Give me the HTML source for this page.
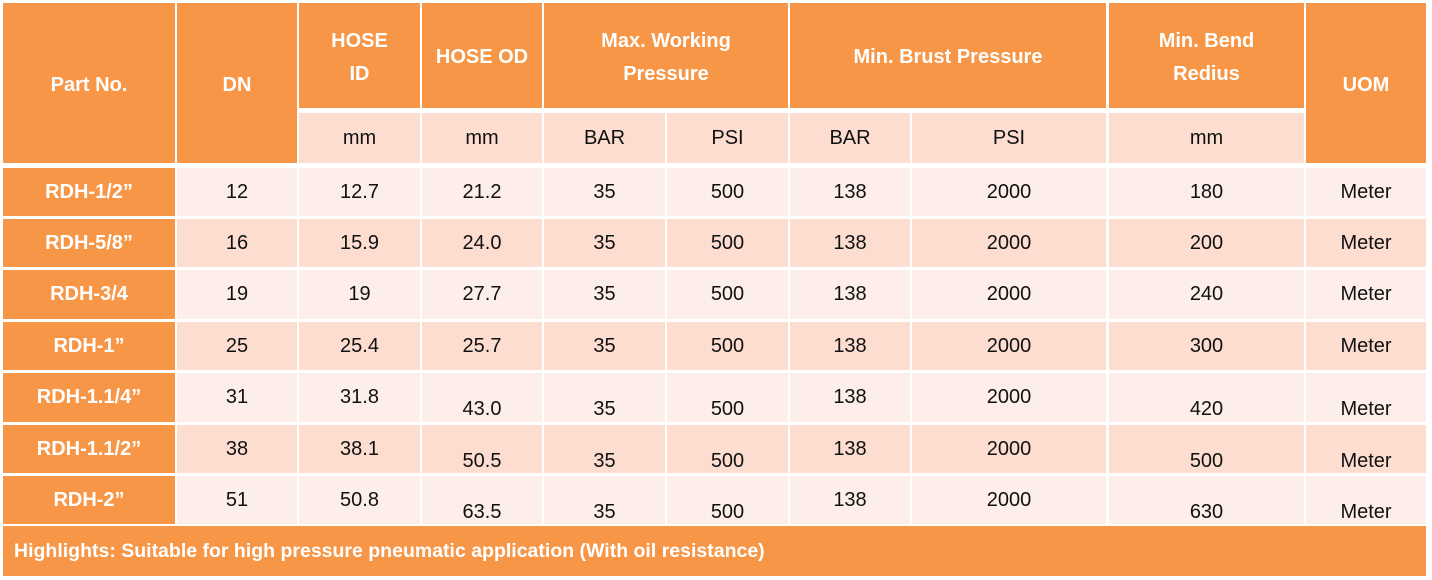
<!DOCTYPE html>
<html><head><meta charset="utf-8"><style>
body{margin:0;width:1432px;height:580px;background:#fff;position:relative;overflow:hidden;font-family:"Liberation Sans",sans-serif;}
.c{position:absolute;display:flex;align-items:center;justify-content:center;text-align:center;font-size:20px;color:#111;box-sizing:border-box;line-height:33px}
.h{background:#F79646;color:#fff;font-weight:bold;font-size:20px;padding-top:4px}
.s{background:#FCDDD0;}
.a{background:#FDEEE9;}
.b{background:#FCDDD0;}
.p{background:#F79646;color:#fff;font-weight:bold;}
.lo{padding-top:24px}
</style></head><body>
<div class="c h" style="left:3px;top:3px;width:172px;height:160px">Part No.</div>
<div class="c h" style="left:177px;top:3px;width:120px;height:160px">DN</div>
<div class="c h" style="left:299px;top:3px;width:121px;height:105px">HOSE<br>ID</div>
<div class="c h" style="left:422px;top:3px;width:120px;height:105px">HOSE OD</div>
<div class="c h" style="left:544px;top:3px;width:244px;height:105px">Max. Working<br>Pressure</div>
<div class="c h" style="left:790px;top:3px;width:316px;height:105px">Min. Brust Pressure</div>
<div class="c h" style="left:1109px;top:3px;width:195px;height:105px">Min. Bend<br>Redius</div>
<div class="c h" style="left:1306px;top:3px;width:120px;height:160px">UOM</div>
<div class="c s" style="left:299px;top:113px;width:121px;height:50px">mm</div>
<div class="c s" style="left:422px;top:113px;width:120px;height:50px">mm</div>
<div class="c s" style="left:544px;top:113px;width:121px;height:50px">BAR</div>
<div class="c s" style="left:667px;top:113px;width:121px;height:50px">PSI</div>
<div class="c s" style="left:790px;top:113px;width:120px;height:50px">BAR</div>
<div class="c s" style="left:912px;top:113px;width:194px;height:50px">PSI</div>
<div class="c s" style="left:1109px;top:113px;width:195px;height:50px">mm</div>

<div class="c p" style="left:3px;top:168px;width:172px;height:48px">RDH-1/2”</div>
<div class="c a" style="left:177px;top:168px;width:120px;height:48px">12</div>
<div class="c a" style="left:299px;top:168px;width:121px;height:48px">12.7</div>
<div class="c a" style="left:422px;top:168px;width:120px;height:48px">21.2</div>
<div class="c a" style="left:544px;top:168px;width:121px;height:48px">35</div>
<div class="c a" style="left:667px;top:168px;width:121px;height:48px">500</div>
<div class="c a" style="left:790px;top:168px;width:120px;height:48px">138</div>
<div class="c a" style="left:912px;top:168px;width:194px;height:48px">2000</div>
<div class="c a" style="left:1109px;top:168px;width:195px;height:48px">180</div>
<div class="c a" style="left:1306px;top:168px;width:120px;height:48px">Meter</div>

<div class="c p" style="left:3px;top:219px;width:172px;height:48px">RDH-5/8”</div>
<div class="c b" style="left:177px;top:219px;width:120px;height:48px">16</div>
<div class="c b" style="left:299px;top:219px;width:121px;height:48px">15.9</div>
<div class="c b" style="left:422px;top:219px;width:120px;height:48px">24.0</div>
<div class="c b" style="left:544px;top:219px;width:121px;height:48px">35</div>
<div class="c b" style="left:667px;top:219px;width:121px;height:48px">500</div>
<div class="c b" style="left:790px;top:219px;width:120px;height:48px">138</div>
<div class="c b" style="left:912px;top:219px;width:194px;height:48px">2000</div>
<div class="c b" style="left:1109px;top:219px;width:195px;height:48px">200</div>
<div class="c b" style="left:1306px;top:219px;width:120px;height:48px">Meter</div>

<div class="c p" style="left:3px;top:270px;width:172px;height:49px">RDH-3/4</div>
<div class="c a" style="left:177px;top:270px;width:120px;height:49px">19</div>
<div class="c a" style="left:299px;top:270px;width:121px;height:49px">19</div>
<div class="c a" style="left:422px;top:270px;width:120px;height:49px">27.7</div>
<div class="c a" style="left:544px;top:270px;width:121px;height:49px">35</div>
<div class="c a" style="left:667px;top:270px;width:121px;height:49px">500</div>
<div class="c a" style="left:790px;top:270px;width:120px;height:49px">138</div>
<div class="c a" style="left:912px;top:270px;width:194px;height:49px">2000</div>
<div class="c a" style="left:1109px;top:270px;width:195px;height:49px">240</div>
<div class="c a" style="left:1306px;top:270px;width:120px;height:49px">Meter</div>

<div class="c p" style="left:3px;top:322px;width:172px;height:48px">RDH-1”</div>
<div class="c b" style="left:177px;top:322px;width:120px;height:48px">25</div>
<div class="c b" style="left:299px;top:322px;width:121px;height:48px">25.4</div>
<div class="c b" style="left:422px;top:322px;width:120px;height:48px">25.7</div>
<div class="c b" style="left:544px;top:322px;width:121px;height:48px">35</div>
<div class="c b" style="left:667px;top:322px;width:121px;height:48px">500</div>
<div class="c b" style="left:790px;top:322px;width:120px;height:48px">138</div>
<div class="c b" style="left:912px;top:322px;width:194px;height:48px">2000</div>
<div class="c b" style="left:1109px;top:322px;width:195px;height:48px">300</div>
<div class="c b" style="left:1306px;top:322px;width:120px;height:48px">Meter</div>

<div class="c p" style="left:3px;top:373px;width:172px;height:49px">RDH-1.1/4”</div>
<div class="c a" style="left:177px;top:373px;width:120px;height:49px">31</div>
<div class="c a" style="left:299px;top:373px;width:121px;height:49px">31.8</div>
<div class="c a lo" style="left:422px;top:373px;width:120px;height:49px">43.0</div>
<div class="c a lo" style="left:544px;top:373px;width:121px;height:49px">35</div>
<div class="c a lo" style="left:667px;top:373px;width:121px;height:49px">500</div>
<div class="c a" style="left:790px;top:373px;width:120px;height:49px">138</div>
<div class="c a" style="left:912px;top:373px;width:194px;height:49px">2000</div>
<div class="c a lo" style="left:1109px;top:373px;width:195px;height:49px">420</div>
<div class="c a lo" style="left:1306px;top:373px;width:120px;height:49px">Meter</div>

<div class="c p" style="left:3px;top:425px;width:172px;height:48px">RDH-1.1/2”</div>
<div class="c b" style="left:177px;top:425px;width:120px;height:48px">38</div>
<div class="c b" style="left:299px;top:425px;width:121px;height:48px">38.1</div>
<div class="c b lo" style="left:422px;top:425px;width:120px;height:48px">50.5</div>
<div class="c b lo" style="left:544px;top:425px;width:121px;height:48px">35</div>
<div class="c b lo" style="left:667px;top:425px;width:121px;height:48px">500</div>
<div class="c b" style="left:790px;top:425px;width:120px;height:48px">138</div>
<div class="c b" style="left:912px;top:425px;width:194px;height:48px">2000</div>
<div class="c b lo" style="left:1109px;top:425px;width:195px;height:48px">500</div>
<div class="c b lo" style="left:1306px;top:425px;width:120px;height:48px">Meter</div>

<div class="c p" style="left:3px;top:476px;width:172px;height:48px">RDH-2”</div>
<div class="c a" style="left:177px;top:476px;width:120px;height:48px">51</div>
<div class="c a" style="left:299px;top:476px;width:121px;height:48px">50.8</div>
<div class="c a lo" style="left:422px;top:476px;width:120px;height:48px">63.5</div>
<div class="c a lo" style="left:544px;top:476px;width:121px;height:48px">35</div>
<div class="c a lo" style="left:667px;top:476px;width:121px;height:48px">500</div>
<div class="c a" style="left:790px;top:476px;width:120px;height:48px">138</div>
<div class="c a" style="left:912px;top:476px;width:194px;height:48px">2000</div>
<div class="c a lo" style="left:1109px;top:476px;width:195px;height:48px">630</div>
<div class="c a lo" style="left:1306px;top:476px;width:120px;height:48px">Meter</div>

<div class="c h" style="left:3px;top:526px;width:1423px;height:50px;justify-content:flex-start;padding-left:11px;padding-top:0;font-size:19.5px">Highlights: Suitable for high pressure pneumatic application (With oil resistance)</div>
</body></html>
